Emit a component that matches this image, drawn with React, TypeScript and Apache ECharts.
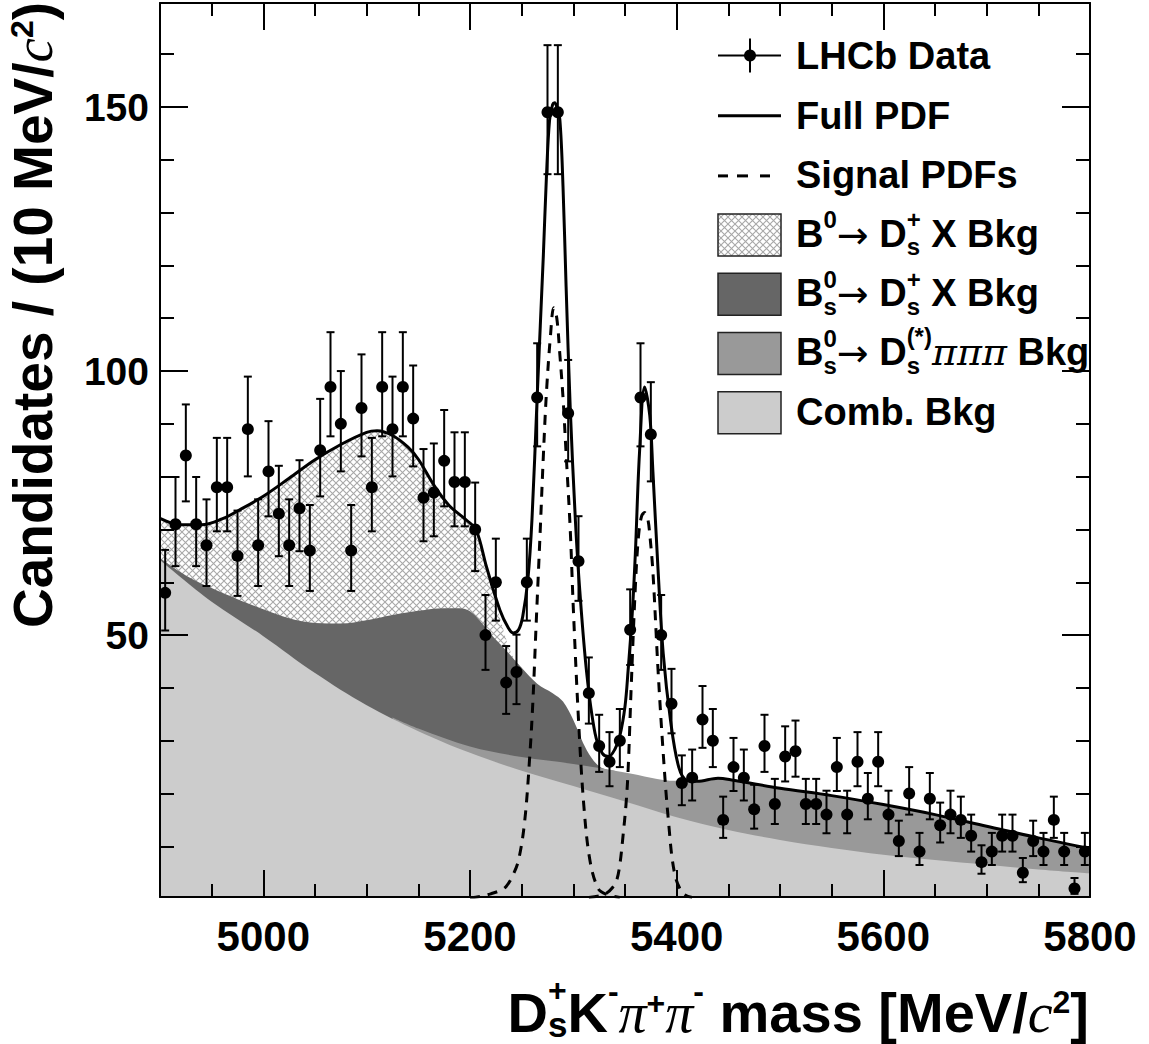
import React, { useEffect, useRef } from "react";
import * as echarts from "echarts";

// ---------------- data ----------------
const BIN_START = 4905;
const BIN_WIDTH = 10;
const counts = [
  58, 71, 84, 71, 67, 78, 78, 65, 89, 67,
  81, 73, 67, 74, 66, 85, 97, 90, 66, 93,
  78, 97, 89, 97, 91, 76, 77, 83, 79, 79,
  70, 50, 60, 41, 43, 60, 95, 149, 149, 92,
  64, 39, 29, 26, 30, 51, 95, 88, 50, 37,
  22, 23, 34, 30, 15, 25, 23, 17, 29, 18,
  27, 28, 18, 18, 16, 25, 16, 26, 19, 26,
  16, 11, 20, 9, 19, 14, 16, 15, 12, 7,
  9, 12, 12, 5, 11, 9, 15, 9, 2, 9,
];

const fullPdf = [
  [4900, 72.1], [4920, 70.9], [4940, 70.9], [4960, 72.0], [4976, 73.6], [5000, 76.3],
  [5025, 79.7], [5050, 83.2], [5075, 86.1], [5100, 88.4], [5110, 88.7], [5125, 87.8],
  [5140, 85.6], [5150, 83.3], [5166, 78.1], [5180, 74.5], [5197, 71.7], [5206, 69.9],
  [5216, 62.9], [5229, 54.7], [5237, 51.4], [5242, 50.4], [5247, 51.0], [5251, 53.5],
  [5256, 60.5], [5260, 72], [5265, 95.1], [5271, 122], [5274, 137], [5277, 147.5],
  [5280, 150.5], [5282, 150.8], [5284, 150.0], [5287, 147.5], [5290, 135], [5293, 116],
  [5297, 93], [5302, 71.7], [5306, 59.1], [5313, 42.7], [5321, 31.4], [5328, 27.6],
  [5334, 27.0], [5340, 28.3], [5345, 30.9], [5350, 36.5], [5353, 43.3], [5357, 54],
  [5360, 65.4], [5364, 84.4], [5369, 97.0], [5374, 91.5], [5377, 81], [5382, 62.3],
  [5387, 46.5], [5394, 33.9], [5402, 25.0], [5410, 22.5], [5420, 22.3], [5440, 22.9],
  [5455, 22.5], [5500, 21.0], [5550, 19.6], [5600, 17.9], [5650, 16.0], [5700, 13.8],
  [5750, 11.6], [5800, 9.6],
];

const signal1 = [
  [5200, 0.2], [5210, 0.5], [5220, 1.0], [5230, 1.7], [5235, 2.4], [5241, 4.3],
  [5247, 7.4], [5253, 14.9], [5258, 27.6], [5261, 38], [5264, 52], [5268, 70],
  [5271, 84], [5274, 96], [5278, 107], [5281, 112], [5284, 110], [5287, 103],
  [5290, 95], [5293, 84.4], [5297, 70], [5300, 55], [5305, 34], [5310, 18.1],
  [5316, 7.4], [5324, 2.0], [5332, 0.9], [5345, 0.3],
];

const signal2 = [
  [5315, 0.3], [5325, 0.6], [5332, 1.1], [5338, 2.2], [5342, 3.6], [5345, 6.5],
  [5348, 11.8], [5351, 18], [5353, 24.4], [5356, 40.2], [5360, 59.1], [5363, 68.6],
  [5366, 72.5], [5369, 73.2], [5372, 72.0], [5374, 69], [5377, 62], [5382, 43.3],
  [5387, 27.6], [5392, 14.9], [5398, 4.85], [5406, 1.1], [5415, 0.3],
];

// cumulative boundaries of the stacked background components
const b0DsXTop = [
  [4900, 72.1], [4920, 70.9], [4940, 70.9], [4960, 72.0], [4976, 73.6], [5000, 76.3],
  [5025, 79.7], [5050, 83.2], [5075, 86.1], [5100, 88.4], [5110, 88.7], [5125, 87.8],
  [5140, 85.6], [5150, 83.3], [5166, 78.1], [5180, 74.5], [5197, 71.6], [5206, 69.7],
  [5216, 62.5], [5229, 53.3], [5240, 46.5], [5250, 43.8],
];

const bsDsXTop = [
  [4900, 64.6], [4925, 61.3], [4950, 58.9], [4975, 56.8], [5000, 54.9], [5025, 53.2],
  [5050, 52.3], [5075, 52.2], [5100, 52.8], [5125, 53.8], [5150, 54.6], [5175, 55.1],
  [5190, 55.1], [5200, 54.5], [5210, 52.6], [5220, 50.2], [5235, 47.1], [5250, 43.8],
  [5265, 40.8], [5280, 39.0], [5290, 37.4], [5300, 33.9], [5313, 28.2], [5326, 25.0],
  [5340, 24.3],
];

const pipipiTop = [
  [5125, 34.4], [5150, 32.3], [5200, 28.9], [5250, 26.9], [5300, 25.6], [5350, 24.0],
  [5400, 22.4], [5420, 22.4], [5440, 22.9], [5455, 22.5], [5500, 21.0], [5550, 19.6],
  [5600, 17.9], [5650, 16.0], [5700, 13.8], [5750, 11.6], [5800, 9.6],
];

const combTop = [
  [4900, 64.2], [4950, 56.3], [5000, 49.8], [5050, 42.8], [5100, 36.7], [5150, 31.8],
  [5200, 27.7], [5250, 24.3], [5300, 21.4], [5350, 18.5], [5400, 15.5], [5450, 13.1],
  [5500, 11.2], [5550, 9.7], [5600, 8.4], [5650, 7.4], [5700, 6.5], [5750, 5.6],
  [5800, 4.85],
];

const X_MAJOR = [5000, 5200, 5400, 5600, 5800];
const X_MINOR = [4950, 5050, 5100, 5150, 5250, 5300, 5350, 5450, 5500, 5550, 5650, 5700, 5750];
const Y_MAJOR = [50, 100, 150];
const Y_MINOR = [10, 20, 30, 40, 60, 70, 80, 90, 110, 120, 130, 140, 160];

// ---------------- text helpers ----------------
const SANS = '"Liberation Sans", Arial, Helvetica, sans-serif';
const SERIF = '"Liberation Serif", "Times New Roman", serif';
const WIDE_SERIF = '"DejaVu Serif", "Liberation Serif", serif';
const ARROW = '"DejaVu Sans", sans-serif';

type Piece = { t: string; size: number; dy: number; fam: string; weight: string; style: string };
type Item = Piece | { stack: Piece[] };

const bold = (t: string, size: number, dy = 0): Piece => ({ t, size, dy, fam: SANS, weight: "bold", style: "normal" });
const arrow = (t: string, size: number, dy = 0): Piece => ({ t, size, dy, fam: ARROW, weight: "normal", style: "normal" });
const ital = (t: string, size: number, dy = 0): Piece => ({ t, size, dy, fam: SERIF, weight: "normal", style: "italic" });
const italWide = (t: string, size: number, dy = 0): Piece => ({ t, size, dy, fam: WIDE_SERIF, weight: "normal", style: "italic" });

const fontStr = (p: Piece) => `${p.style} ${p.weight} ${p.size}px ${p.fam}`;

let mctx: CanvasRenderingContext2D | null = null;
function measure(p: Piece) {
  if (!mctx) mctx = document.createElement("canvas").getContext("2d");
  mctx!.font = fontStr(p);
  return mctx!.measureText(p.t).width;
}

function textEl(p: Piece, x: number) {
  return {
    type: "text",
    x,
    y: p.dy - 0.345 * p.size,
    silent: true,
    style: {
      text: p.t,
      font: fontStr(p),
      fill: "#000",
      align: "left",
      verticalAlign: "middle",
      textAlign: "left",
      textVerticalAlign: "middle",
    },
  };
}

function layout(items: Item[]) {
  let x = 0;
  const els: any[] = [];
  for (const it of items) {
    if ("stack" in it) {
      let w = 0;
      for (const p of it.stack) {
        els.push(textEl(p, x));
        w = Math.max(w, measure(p));
      }
      x += w;
    } else {
      els.push(textEl(it, x));
      x += measure(it);
    }
  }
  return { els, width: x };
}

function makeHatch() {
  const n = 7;
  const c = document.createElement("canvas");
  c.width = n;
  c.height = n;
  const g = c.getContext("2d")!;
  g.fillStyle = "#ffffff";
  g.fillRect(0, 0, n, n);
  g.strokeStyle = "#a8a8a8";
  g.lineWidth = 1.1;
  g.beginPath();
  g.moveTo(0, 0);
  g.lineTo(n, n);
  g.moveTo(n, 0);
  g.lineTo(0, n);
  g.stroke();
  return { image: c, repeat: "repeat", imageWidth: n, imageHeight: n } as any;
}

export default function App() {
  const ref = useRef<HTMLDivElement>(null);

  useEffect(() => {
    document.body.style.margin = "0";
    document.body.style.overflow = "hidden";
    if (!ref.current) return;
    const chart = echarts.init(ref.current, undefined, { renderer: "svg" });

    const hatch = makeHatch();
    const hatchLegend = makeHatch();

    const points = counts.map((n, i) => [BIN_START + BIN_WIDTH * i, n]);
    // Poisson (RooFit style) asymmetric error bars
    const bars = counts.map((n, i) => {
      const s = Math.sqrt(n + 0.25);
      return [BIN_START + BIN_WIDTH * i, n - (s - 0.5), n + (s + 0.5)];
    });

    const axisCommon = { lineStyle: { color: "#000", width: 2 } };
    const mkX = (pos: string, vals: number[], len: number, showLine: boolean, label: boolean) => ({
      type: "value",
      min: 4900,
      max: 5800,
      position: pos,
      z: 10,
      axisLine: { show: showLine, onZero: false, ...axisCommon },
      axisTick: { show: true, inside: true, length: len, customValues: vals, ...axisCommon },
      axisLabel: {
        show: label,
        customValues: vals,
        formatter: (v: number) => String(v),
        margin: 18,
        fontSize: 42,
        fontWeight: "bold",
        fontFamily: SANS,
        color: "#000",
      },
      splitLine: { show: false },
    });
    const mkY = (pos: string, vals: number[], len: number, showLine: boolean, label: boolean) => ({
      type: "value",
      min: 0.4,
      max: 169.7,
      position: pos,
      z: 10,
      axisLine: { show: showLine, onZero: false, ...axisCommon },
      axisTick: { show: true, inside: true, length: len, customValues: vals, ...axisCommon },
      axisLabel: {
        show: label,
        customValues: vals,
        formatter: (v: number) => String(v),
        margin: 11,
        fontSize: 39,
        fontWeight: "bold",
        fontFamily: SANS,
        color: "#000",
      },
      splitLine: { show: false },
    });

    const SM = 0.35;
    const areaSeries = (name: string, data: number[][], color: any, z: number) => ({
      type: "line",
      name,
      data,
      smooth: SM,
      symbol: "none",
      lineStyle: { width: 0, opacity: 0 },
      areaStyle: { color, opacity: 1, origin: "start" },
      z,
      silent: true,
    });

    // ---------- graphic: titles & legend ----------
    const graphics: any[] = [];

    const T = 56;
    const xt = layout([
      bold("D", T),
      { stack: [bold("+", 32, -31), bold("s", 35, 5)] },
      bold("K", T),
      bold("-", 32, -30),
      ital("\u03c0", T),
      bold("+", 32, -18),
      ital("\u03c0", T),
      bold("-", 32, -30),
      bold(" mass [MeV/", T),
      ital("c", T),
      bold("2", 32, -19),
      bold("]", T),
    ]);
    graphics.push({
      type: "group",
      x: 1089,
      y: 1032,
      children: [{ type: "group", x: -xt.width, y: 0, children: xt.els }],
    });

    const YT = 55;
    const yt = layout([
      bold("Candidates / (10 MeV/", YT),
      ital("c", YT),
      bold("2", 32, -19),
      bold(")", YT),
    ]);
    graphics.push({
      type: "group",
      x: 52,
      y: 2,
      rotation: Math.PI / 2,
      children: [{ type: "group", x: -yt.width, y: 0, children: yt.els }],
    });

    const LX0 = 718;
    const LX1 = 781;
    const LTX = 796;
    const base = (i: number) => 69.5 + 59.2 * i;
    const L = 38;
    const S = 24;
    const SUP = -19;
    const SUB = 8;
    const legendTexts: Item[][] = [
      [bold("LHCb Data", L)],
      [bold("Full PDF", L)],
      [bold("Signal PDFs", L)],
      [
        bold("B", L), bold("0", S, SUP), arrow("\u2192", L, 1), bold(" D", L),
        { stack: [bold("+", S, SUP), bold("s", S, SUB)] }, bold(" X Bkg", L),
      ],
      [
        bold("B", L), { stack: [bold("0", S, SUP), bold("s", S, SUB)] }, arrow("\u2192", L, 1), bold(" D", L),
        { stack: [bold("+", S, SUP), bold("s", S, SUB)] }, bold(" X Bkg", L),
      ],
      [
        bold("B", L), { stack: [bold("0", S, SUP), bold("s", S, SUB)] }, arrow("\u2192", L, 1), bold(" D", L),
        { stack: [bold("(*)", S, -21), bold("s", S, SUB)] }, italWide("\u03c0\u03c0\u03c0", L), bold(" Bkg", L),
      ],
      [bold("Comb. Bkg", L)],
    ];
    legendTexts.forEach((items, i) => {
      const lt = layout(items);
      graphics.push({ type: "group", x: LTX, y: base(i), children: lt.els });
    });

    const ls = { stroke: "#000", lineWidth: 2 };
    // data marker
    const b0 = base(0) - 14;
    graphics.push({ type: "line", shape: { x1: LX0, y1: b0, x2: LX1, y2: b0 }, style: ls });
    graphics.push({ type: "line", shape: { x1: 750, y1: b0 - 17, x2: 750, y2: b0 + 17 }, style: ls });
    graphics.push({ type: "circle", shape: { cx: 750, cy: b0, r: 6 }, style: { fill: "#000" } });
    // full pdf
    const b1 = base(1) - 13;
    graphics.push({ type: "line", shape: { x1: LX0, y1: b1, x2: LX1, y2: b1 }, style: { stroke: "#000", lineWidth: 3 } });
    // signal dashes
    const b2 = base(2) - 12;
    [[718, 728], [737, 748], [760, 770]].forEach(([a, b]) =>
      graphics.push({ type: "line", shape: { x1: a, y1: b2, x2: b, y2: b2 }, style: { stroke: "#000", lineWidth: 3 } })
    );
    // boxes
    const boxFills = [hatchLegend, "#666666", "#999999", "#cccccc"];
    boxFills.forEach((f, k) => {
      const i = k + 3;
      graphics.push({
        type: "rect",
        shape: { x: LX0, y: base(i) - 33, width: LX1 - LX0, height: 42 },
        style: { fill: f, stroke: "#222", lineWidth: 1.5 },
      });
    });

    const option: any = {
      animation: false,
      backgroundColor: "#ffffff",
      grid: { left: 160, right: 59, top: 3, bottom: 147, containLabel: false },
      xAxis: [
        mkX("bottom", X_MAJOR, 27, true, true),
        mkX("bottom", X_MINOR, 13, false, false),
        mkX("top", X_MAJOR, 27, true, false),
        mkX("top", X_MINOR, 13, false, false),
      ],
      yAxis: [
        mkY("left", Y_MAJOR, 28, true, true),
        mkY("left", Y_MINOR, 14, false, false),
        mkY("right", Y_MAJOR, 28, true, false),
        mkY("right", Y_MINOR, 14, false, false),
      ],
      series: [
        areaSeries("B0 -> Ds X Bkg", b0DsXTop, hatch, 1),
        areaSeries("Bs -> Ds X Bkg", bsDsXTop, "#666666", 2),
        areaSeries("Bs -> Ds(*) pipipi Bkg", pipipiTop, "#999999", 3),
        areaSeries("Comb. Bkg", combTop, "#cccccc", 4),
        {
          type: "line",
          name: "Signal PDF 1",
          data: signal1,
          smooth: SM,
          symbol: "none",
          lineStyle: { color: "#000", width: 3, type: [10, 8] },
          z: 5,
          silent: true,
        },
        {
          type: "line",
          name: "Signal PDF 2",
          data: signal2,
          smooth: SM,
          symbol: "none",
          lineStyle: { color: "#000", width: 3, type: [10, 8] },
          z: 5,
          silent: true,
        },
        {
          type: "line",
          name: "Full PDF",
          data: fullPdf,
          smooth: SM,
          symbol: "none",
          lineStyle: { color: "#000", width: 3 },
          z: 6,
          silent: true,
        },
        {
          type: "custom",
          name: "errors",
          data: bars,
          encode: { x: 0, y: [1, 2] },
          z: 7,
          silent: true,
          renderItem: (params: any, api: any) => {
            const x = api.value(0);
            const p1 = api.coord([x, api.value(1)]);
            const p2 = api.coord([x, api.value(2)]);
            const hw = 4;
            const st = { stroke: "#000", lineWidth: 2 };
            return {
              type: "group",
              children: [
                { type: "line", shape: { x1: p1[0], y1: p1[1], x2: p2[0], y2: p2[1] }, style: st },
                { type: "line", shape: { x1: p1[0] - hw, y1: p1[1], x2: p1[0] + hw, y2: p1[1] }, style: st },
                { type: "line", shape: { x1: p2[0] - hw, y1: p2[1], x2: p2[0] + hw, y2: p2[1] }, style: st },
              ],
            };
          },
        },
        {
          type: "scatter",
          name: "LHCb Data",
          data: points,
          symbol: "circle",
          symbolSize: 12,
          itemStyle: { color: "#000", opacity: 1 },
          z: 8,
          silent: true,
        },
      ],
      graphic: { elements: graphics },
    };

    chart.setOption(option);
    return () => chart.dispose();
  }, []);

  return <div ref={ref} style={{ width: 1149, height: 1044 }} />;
}
